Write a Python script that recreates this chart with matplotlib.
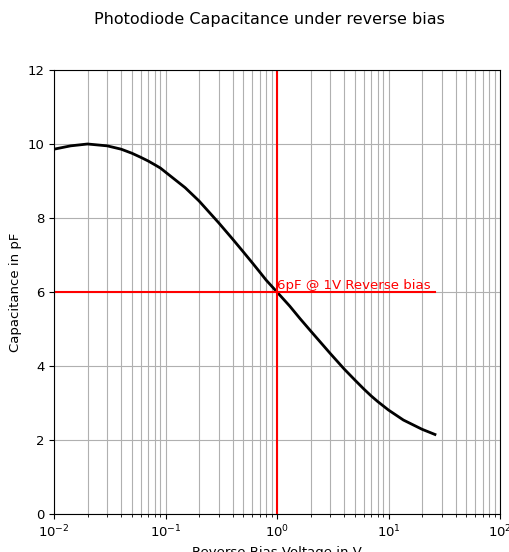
import matplotlib
matplotlib.use("Agg")
import matplotlib.pyplot as plt

plt.rcParams['font.size'] = 9.5

# reverse bias voltage (V) and capacitance (pF)
voltage = [0.01, 0.0141, 0.02, 0.03, 0.04, 0.05, 0.06, 0.07, 0.08, 0.09,
           0.1, 0.15, 0.2, 0.3, 0.4, 0.5, 0.6, 0.7, 0.8, 1.0,
           1.3, 1.61, 2.0, 3.0, 4.0, 5.0, 6.0, 7.0, 8.0, 10.0,
           13.6, 20.0, 26.1]
capacitance = [9.86, 9.95, 10.0, 9.95, 9.86, 9.75, 9.64, 9.54, 9.44, 9.35,
               9.24, 8.82, 8.46, 7.87, 7.43, 7.08, 6.79, 6.54, 6.32, 6.0,
               5.62, 5.28, 4.95, 4.34, 3.92, 3.62, 3.38, 3.19, 3.04, 2.81,
               2.54, 2.29, 2.15]

ref_v = 1.0
ref_c = 6.0

fig = plt.figure(figsize=(5.1, 5.52), dpi=100)
ax = fig.add_axes([0.1059, 0.0688, 0.8745, 0.8044])

ax.plot(voltage, capacitance, color='black', linewidth=2)
ax.plot([voltage[0], voltage[-1]], [ref_c, ref_c], color='red', linewidth=1.5)
ax.axvline(ref_v, color='red', linewidth=1.5)
ax.text(ref_v, ref_c, '6pF @ 1V Reverse bias', color='red', fontsize=9.6,
        ha='left', va='bottom')

ax.set_xscale('log')
ax.set_xlim(1e-2, 1e2)
ax.set_ylim(0, 12)
ax.grid(True, which='both')
ax.set_xlabel('Reverse Bias Voltage in V')
ax.set_ylabel('Capacitance in pF')
fig.suptitle('Photodiode Capacitance under reverse bias', x=0.528, y=0.978,
             fontsize=11.5)

fig.savefig('out.png', dpi=100)
